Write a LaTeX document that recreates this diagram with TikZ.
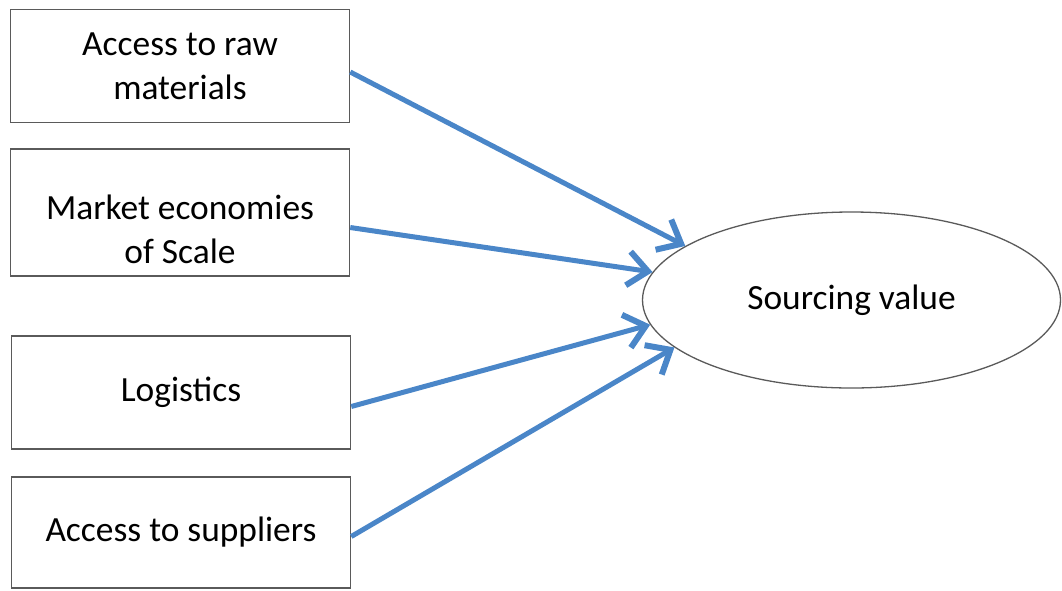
\documentclass[tikz,border=0pt]{standalone}
\usepackage{fontspec}
\setmainfont{Carlito}
\usetikzlibrary{arrows.meta,shapes.geometric}
\definecolor{arrowblue}{HTML}{4A86C8}
\definecolor{boxgray}{HTML}{5A5A5A}
\tikzset{
  box/.style={draw=boxgray, line width=1.5pt, rectangle, inner sep=0pt, align=center,
    font=\fontsize{35.4}{44}\selectfont},
  lbl/.style={inner sep=0pt, align=center, font=\fontsize{35.4}{44}\selectfont},
  oval/.style={draw=boxgray, line width=1.3pt, ellipse, inner sep=0pt,
    minimum width=418pt, minimum height=176pt, font=\fontsize{35.4}{44}\selectfont},
  link/.style={draw=arrowblue, line width=5pt,
    -{Straight Barb[length=20pt,width=34pt,line width=6pt]}}
}
\begin{document}
\begin{tikzpicture}[x=1pt,y=-1pt]
\useasboundingbox (0,0) rectangle (1062,590);
\node[box, minimum width=339pt, minimum height=113pt] (b1) at (180,66) {Access to raw\\materials};
\node[box, minimum width=339pt, minimum height=127pt] (b2) at (180,212.5) {};
\node[lbl] (t2) at (180,229) {Market economies\\of Scale};
\node[box, minimum width=339pt, minimum height=113pt] (b3) at (181,392.5) {Logistics};
\node[box, minimum width=339pt, minimum height=111pt] (b4) at (181,532.5) {Access to suppliers};
\node[oval] (sv) at (851.5,300) {Sourcing value};
\draw[link] ([yshift=-6pt]b1.east) -- (sv.162);
\draw[link] ([yshift=-15pt]b2.east) -- (sv.172.3);
\draw[link] ([yshift=-14pt]b3.east) -- (sv.187.6);
\draw[link] ([yshift=-4pt]b4.east) -- (sv.195.5);
\end{tikzpicture}
\end{document}
